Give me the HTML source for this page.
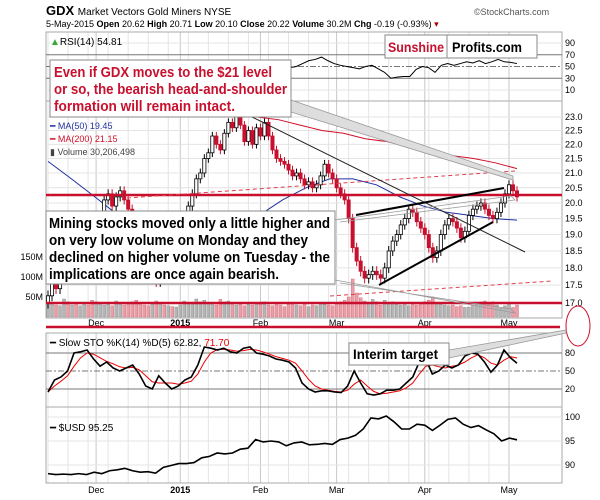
<!DOCTYPE html>
<html><head><meta charset="utf-8">
<style>
html,body{margin:0;padding:0;background:#fff;}
svg{display:block;font-family:"Liberation Sans",sans-serif;}
</style></head>
<body>
<svg id="chart" width="600" height="500" viewBox="0 0 600 500">
<text x="46" y="15" font-size="13" font-weight="bold">GDX <tspan font-size="10" font-weight="normal">Market Vectors Gold Miners  NYSE</tspan></text>
<text x="474" y="15" font-size="9" fill="#555">©StockCharts.com</text>
<text x="46" y="27" font-size="9">5-May-2015   <tspan font-weight="bold">Open</tspan> 20.62  <tspan font-weight="bold">High</tspan> 20.71  <tspan font-weight="bold">Low</tspan> 20.10  <tspan font-weight="bold">Close</tspan> 20.22  <tspan font-weight="bold">Volume</tspan> 30.2M  <tspan font-weight="bold">Chg</tspan> -0.19 (-0.93%) <tspan fill="#a00">▾</tspan></text>
<g id="grid"></g>
<g id="marks"></g>
</svg>
<script>
const closes=[17.2,17.6,17.4,18.0,18.5,18.2,18.7,18.4,18.9,19.3,19.0,18.2,
18.6,19.5,20.1,20.3,19.9,20.2,20.4,20.1,19.8,19.3,18.9,18.4,18.1,17.8,18.2,17.6,18.0,17.8,18.3,18.1,18.3,
18.6,19.4,19.9,20.3,20.8,21.0,21.5,21.7,22.3,22.0,21.8,22.4,22.8,22.6,23.0,22.7,22.1,22.5,22.0,22.6,
22.3,22.8,22.3,21.8,21.5,21.4,21.3,21.1,20.9,21.0,20.8,20.6,20.7,20.5,20.6,20.9,21.3,21.0,20.8,
20.5,20.3,20.1,19.5,18.6,18.2,17.9,17.7,17.8,17.9,17.8,17.7,18.0,18.5,18.8,19.0,19.3,19.5,19.8,19.7,19.4,19.2,
19.0,18.6,18.3,18.5,19.0,19.3,19.5,19.4,19.2,18.9,19.1,19.6,19.8,19.9,20.0,19.8,19.6,19.5,19.7,20.0,20.3,
20.6,20.4,20.2];
const volumes=[40,35,30,28,45,38,30,33,28,36,30,42,
38,35,30,32,28,40,35,30,33,38,42,36,30,28,35,40,33,30,28,26,25,
30,40,35,32,45,38,42,35,36,30,44,38,40,35,30,33,28,34,30,36,
32,38,30,28,35,30,26,32,36,30,28,33,26,30,28,35,32,30,28,
34,38,42,50,95,60,48,40,36,44,38,30,42,35,38,32,30,34,28,36,30,33,
38,42,50,36,32,30,28,30,26,28,24,25,30,35,38,40,32,38,30,22,28,
32,24,30];
const ma50=[21.4,20.8,20.2,19.6,19.0,18.8,18.7,18.8,19.1,19.6,20.1,20.5,20.8,20.8,20.6,20.2,19.9,19.7,19.6,19.5,19.45];
const ma200=[23.4,23.3,23.2,23.1,23.0,22.9,22.7,22.5,22.4,22.2,22.1,21.9,21.8,21.6,21.5,21.35,21.15];
const rsiVals=[48,50,55,60,62,66,60,55,52,50,48,46,50,52,46,40,30,32,33,33,45,50,48,40,52,55,52,55,58,56,60,55,58,62,58,57,55];
const stoK=[15,35,40,50,80,82,85,70,58,65,55,50,55,60,45,25,20,42,30,20,25,35,40,60,90,88,85,88,82,80,88,90,80,78,75,70,68,65,55,30,20,15,17,17,15,14,25,50,30,12,10,12,18,18,20,30,40,65,70,45,50,60,55,60,75,80,78,65,48,60,85,72,63];
const stoD=[15,25,33,42,58,72,80,78,72,66,62,57,55,56,52,42,32,30,30,30,28,30,33,45,65,80,86,86,85,83,84,86,85,82,78,74,71,68,63,50,36,25,20,18,16,15,18,28,35,25,16,12,13,15,17,22,30,45,58,60,57,55,58,60,65,72,77,72,63,60,68,74,71.7];
const usd=[88.2,88.0,88.1,88.0,88.2,88.0,88.5,88.2,88.8,89.0,89.3,88.8,88.5,88.6,88.3,89.5,89.9,90.3,90.3,90.5,91.5,91.8,92.5,92.3,92.5,93.3,93.5,95.3,94.8,95.0,94.8,94.0,94.6,94.8,94.2,94.3,94.5,94.3,95.3,95.6,96.2,97.5,99.8,99.6,100.2,99.0,97.5,97.5,98.5,98.3,97.2,98.3,99.5,99.8,98.5,97.8,98.2,97.3,96.5,95.0,95.6,95.25];
const rsiTicks=[90,70,50,30,10];
const priceTicks=[23.0,22.5,22.0,21.5,21.0,20.5,20.0,19.5,19.0,18.5,18.0,17.5,17.0];
const volTicks=[150,100,50];
const stoTicks=[80,50,20];
const usdTicks=[100,95,90];
const months=["Dec","2015","Feb","Mar","Apr","May"];
const monthIdx=[12,33,53,72,94,115];

const NS="http://www.w3.org/2000/svg";
const L=46,R=562,X0=48,X1=517;
const N=closes.length;
const xOf=i=>X0+i*(X1-X0)/(N-1);
const xFrac=(i,n)=>X0+i*(X1-X0)/(n-1);
const lg=Math.log;
const yP=p=>117+(lg(23)-lg(p))/(lg(23)-lg(17))*186;
const yV=v=>317-v*0.4;
const yR=v=>43+(90-v)*47/80;
const yS=v=>353+(80-v)*0.6;
const yU=v=>417+(100-v)*4.8;
function el(t,a,p){const e=document.createElementNS(NS,t);for(const k in a)e.setAttribute(k,a[k]);(p||document.getElementById('marks')).appendChild(e);return e;}
const G=document.getElementById('grid');

[[32,101],[101,318],[333,407],[407,483]].forEach(([t,b])=>{
  for(let i=0;i<N;i+=5){el('line',{x1:xOf(i),x2:xOf(i),y1:t,y2:b,stroke:'#e4e4e4','stroke-width':1},G);}
  monthIdx.forEach(i=>el('line',{x1:xOf(i),x2:xOf(i),y1:t,y2:b,stroke:'#c8c8c8','stroke-width':1},G));
  el('rect',{x:L,y:t,width:R-L,height:b-t,fill:'none',stroke:'#aaa','stroke-width':1},G);
});
priceTicks.forEach(v=>{const y=yP(v);el('line',{x1:L,x2:R,y1:y,y2:y,stroke:'#e4e4e4'},G);
  const t=el('text',{x:565,y:y+3,'font-size':9},G);t.textContent=v.toFixed(1);});
rsiTicks.forEach(v=>{const y=yR(v);el('line',{x1:L,x2:R,y1:y,y2:y,stroke:(v==70||v==30)?'#777':(v==50?'#777':'#e4e4e4'),'stroke-dasharray':v==50?'6,2,2,2':'none'},G);
  const t=el('text',{x:565,y:y+3,'font-size':9},G);t.textContent=v;});
volTicks.forEach(v=>{const t=el('text',{x:43,y:yV(v)+3,'font-size':9,'text-anchor':'end'},G);t.textContent=v+'M';});
stoTicks.forEach(v=>{const y=yS(v);el('line',{x1:L,x2:R,y1:y,y2:y,stroke:'#777','stroke-dasharray':v==50?'6,2,2,2':'none'},G);
  const t=el('text',{x:565,y:y+3,'font-size':9},G);t.textContent=v;});
usdTicks.forEach(v=>{const y=yU(v);el('line',{x1:L,x2:R,y1:y,y2:y,stroke:'#e4e4e4'},G);
  const t=el('text',{x:565,y:y+3,'font-size':9},G);t.textContent=v;});
[326,493].forEach(y=>months.forEach((m,k)=>{const t=el('text',{x:xOf(monthIdx[k]),y:y,'font-size':9,'text-anchor':'middle','font-weight':m=='2015'?'bold':'normal'},G);t.textContent=m;}));

closes.forEach((c,i)=>{const up=i==0||c>=closes[i-1];const y=yV(volumes[i]);
  const r=el('rect',{x:xOf(i)-1.5,y:y,width:3,height:317-y,fill:up?'#b5b5b5':'#e8a0a8',stroke:up?'#888':'#d06070','stroke-width':0.4});
  });
const poly=(arr,xf,yf,st,w)=>el('polyline',{points:arr.map((v,i)=>xf(i,arr.length)+','+yf(v)).join(' '),fill:'none',stroke:st,'stroke-width':w});
poly(ma200,(i,n)=>170+i*(517-170)/(n-1),yP,'#d0102a',1);
poly(ma50,(i,n)=>xFrac(i,n),yP,'#2030a0',1);
closes.forEach((c,i)=>{const o=i==0?c-0.2:closes[i-1];const hi=Math.max(o,c)+0.15,lo=Math.min(o,c)-0.15;const up=c>=o;const x=xOf(i);
  const col=up?'#000':'#c8102e';
  const w=el('line',{x1:x,x2:x,y1:yP(hi),y2:yP(lo),stroke:col,'stroke-width':1});
  
  const b=el('rect',{x:x-1.6,y:yP(Math.max(o,c)),width:3.2,height:Math.max(1,yP(Math.min(o,c))-yP(Math.max(o,c))),fill:up?'#fff':'#c8102e',stroke:col,'stroke-width':0.8});
  });
poly(rsiVals,(i,n)=>290+i*(517-290)/(n-1),yR,'#000',1);
poly(stoD,xFrac,yS,'#e00',1);
poly(stoK,xFrac,yS,'#000',1.6);
poly(usd,xFrac,yU,'#000',1.6);
</script>
<svg width="600" height="500" viewBox="0 0 600 500" style="position:absolute;left:0;top:0;font-family:'Liberation Sans',sans-serif">
<text x="50" y="45" font-size="10"><tspan fill="#3a3">▲</tspan>RSI(14) 54.81</text>
<text x="50" y="129" font-size="9" fill="#2030a0">━ MA(50) 19.45</text>
<text x="50" y="142" font-size="9" fill="#d0102a">━ MA(200) 21.15</text>
<text x="50" y="155" font-size="9" fill="#444">▮ Volume 30,206,498</text>
<text x="50" y="346" font-size="10">━ Slow STO %K(14) %D(5) 62.82, <tspan fill="#e00">71.70</tspan></text>
<text x="50" y="431" font-size="10">━ $USD 95.25</text>
<line x1="46" y1="195" x2="562" y2="195" stroke="#c8102e" stroke-width="2.5"/>
<line x1="46" y1="303" x2="562" y2="303" stroke="#c8102e" stroke-width="2.5"/>
<line x1="46" y1="327" x2="560" y2="327" stroke="#c8102e" stroke-width="2.5"/>
<line x1="127" y1="198" x2="515" y2="171" stroke="#e04050" stroke-width="1" stroke-dasharray="4,3"/>
<line x1="330" y1="296" x2="552" y2="281" stroke="#e04050" stroke-width="1" stroke-dasharray="4,3"/>
<line x1="252" y1="117" x2="525" y2="252" stroke="#222" stroke-width="1"/>
<line x1="356" y1="215" x2="504" y2="188" stroke="#000" stroke-width="2"/>
<line x1="379" y1="285" x2="493" y2="222" stroke="#000" stroke-width="2"/>
<ellipse cx="578" cy="326" rx="12" ry="20" fill="none" stroke="#d0102a" stroke-width="1"/>
<polygon points="291,100 513,176 513,180 291,112" fill="#ddd" stroke="#999" stroke-width="0.8"/>
<polyline points="335,220 511,196 515,200 340,222" fill="none" stroke="#999" stroke-width="0.8"/>
<polyline points="335,280 515,313 511,309 340,283" fill="none" stroke="#999" stroke-width="0.8"/>
<polygon points="449,350 566,330 566,333 449,358" fill="#ddd" stroke="#999" stroke-width="0.8"/>
<rect x="50" y="60" width="241" height="57" fill="#fff" stroke="#888" stroke-width="1"/>
<text font-size="15" font-weight="bold" fill="#c8102e" lengthAdjust="spacingAndGlyphs"><tspan x="54" y="77" textLength="218" lengthAdjust="spacingAndGlyphs">Even if GDX moves to the $21 level</tspan><tspan x="54" y="94" textLength="233" lengthAdjust="spacingAndGlyphs">or so, the bearish head-and-shoulder</tspan><tspan x="54" y="111" textLength="181" lengthAdjust="spacingAndGlyphs">formation will remain intact.</tspan></text>
<rect x="46" y="211" width="289" height="73" fill="#fff" stroke="#888" stroke-width="1"/>
<text font-size="15" font-weight="bold" fill="#000"><tspan x="49" y="228" textLength="281" lengthAdjust="spacingAndGlyphs">Mining stocks moved only a little higher and</tspan><tspan x="49" y="245" textLength="259" lengthAdjust="spacingAndGlyphs">on very low volume on Monday and they</tspan><tspan x="49" y="262" textLength="281" lengthAdjust="spacingAndGlyphs">declined on higher volume on Tuesday - the</tspan><tspan x="49" y="279" textLength="230" lengthAdjust="spacingAndGlyphs">implications are once again bearish.</tspan></text>
<rect x="385" y="35" width="152" height="23" fill="#fff" stroke="#888" stroke-width="1"/>
<line x1="447" y1="35" x2="447" y2="58" stroke="#888" stroke-width="1"/>
<text x="388" y="52" font-size="14" font-weight="bold" fill="#c8102e" textLength="56" lengthAdjust="spacingAndGlyphs">Sunshine</text>
<text x="452" y="52" font-size="14" font-weight="bold" fill="#000" textLength="70" lengthAdjust="spacingAndGlyphs">Profits.com</text>
<rect x="349" y="343" width="100" height="22" fill="#fff" stroke="#888" stroke-width="1"/>
<text x="353" y="359" font-size="14" font-weight="bold" textLength="85" lengthAdjust="spacingAndGlyphs">Interim target</text>
</svg>
</body></html>
